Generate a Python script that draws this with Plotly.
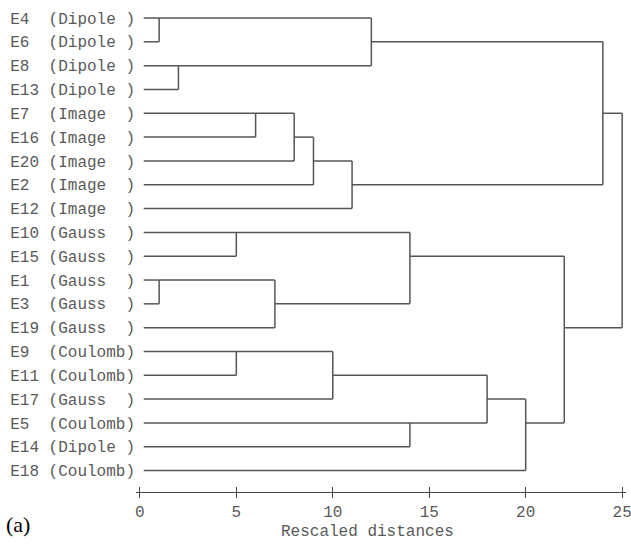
import plotly.graph_objects as go

NB = "\u00a0"

# Leaf labels in dendrogram order (top to bottom)
leaf_ids = ["E4", "E6", "E8", "E13", "E7", "E16", "E20", "E2", "E12",
            "E10", "E15", "E1", "E3", "E19", "E9", "E11", "E17", "E5", "E14", "E18"]
leaf_groups = ["Dipole ", "Dipole ", "Dipole ", "Dipole ", "Image  ", "Image  ", "Image  ", "Image  ", "Image  ",
               "Gauss  ", "Gauss  ", "Gauss  ", "Gauss  ", "Gauss  ", "Coulomb", "Coulomb", "Gauss  ", "Coulomb",
               "Dipole ", "Coulomb"]

# Merges: (cluster a, cluster b, rescaled distance); leaves are 0..19, new clusters numbered from 20
merge_a = [0, 2, 11, 9, 14, 4, 22, 25, 27, 24, 28, 20, 23, 17, 29, 34, 32, 31, 37]
merge_b = [1, 3, 12, 10, 15, 5, 13, 6, 7, 16, 8, 21, 26, 18, 33, 19, 35, 30, 36]
merge_d = [1, 2, 1, 5, 5, 6, 7, 8, 9, 10, 11, 12, 14, 14, 18, 20, 22, 24, 25]

x_ticks = [0, 5, 10, 15, 20, 25]

LEAF_START = 0.2
LINE_COLOR = "#555555"
TEXT_COLOR = "#5a5a5a"
MONO = "Liberation Mono, Courier New, monospace"

labels = [(i + NB * (4 - len(i)) + "(" + g + ")").replace(" ", NB) for i, g in zip(leaf_ids, leaf_groups)]

n = len(leaf_ids)
row = {k: k for k in range(n)}
height = {k: LEAF_START for k in range(n)}

xs, ys = [], []
for k, (a, b, d) in enumerate(zip(merge_a, merge_b, merge_d)):
    cid = n + k
    for c in (a, b):
        xs += [height[c], d, None]
        ys += [row[c], row[c], None]
    xs += [d, d, None]
    ys += [row[a], row[b], None]
    row[cid] = (row[a] + row[b]) // 2
    height[cid] = d

fig = go.Figure()
fig.add_trace(go.Scatter(x=xs, y=ys, mode="lines",
                         line=dict(color=LINE_COLOR, width=1.5),
                         hoverinfo="skip", showlegend=False, cliponaxis=False))
fig.add_trace(go.Scatter(x=[0, 25], y=[0, 0], mode="markers", marker=dict(opacity=0),
                         xaxis="x2", hoverinfo="skip", showlegend=False))

W, H = 631, 544
ml, mr, mt, mb = 136, 5.4, 0, 52
row_px0, row_step = 18, 23.82
plot_h = H - mt - mb
y_top = -(row_px0 - mt) / row_step
y_bot = (plot_h - (row_px0 - mt)) / row_step

common_x = dict(range=[-0.2, 25.2], tickvals=x_ticks, showgrid=False, zeroline=False,
                showline=True, linecolor="#444444", linewidth=1.2, automargin=False,
                tickcolor="#444444", tickwidth=1.2, ticklen=5)

fig.update_layout(
    width=W, height=H,
    margin=dict(l=ml, r=mr, t=mt, b=mb, autoexpand=False),
    paper_bgcolor="white", plot_bgcolor="white",
    showlegend=False,
    xaxis=dict(**common_x, ticks="outside", ticklabeloverflow="allow",
               tickfont=dict(family=MONO, size=16, color=TEXT_COLOR)),
    xaxis2=dict(**common_x, ticks="inside", overlaying="x", matches="x",
                side="bottom", anchor="y", showticklabels=False),
    yaxis=dict(range=[y_bot, y_top], tickvals=list(range(n)), ticktext=labels,
               showgrid=False, zeroline=False, showline=False, ticks="",
               ticklabelstandoff=0, automargin=False, ticklabeloverflow="allow",
               tickfont=dict(family=MONO, size=16, color=TEXT_COLOR)),
    annotations=[
        dict(text="Rescaled distances", xref="paper", yref="paper",
             x=(367.5 - ml) / (W - ml - mr), y=-(532 - (H - mb)) / plot_h,
             xanchor="center", yanchor="middle", showarrow=False,
             font=dict(family=MONO, size=16, color=TEXT_COLOR)),
        dict(text="(a)", xref="paper", yref="paper",
             x=(4 - ml) / (W - ml - mr), y=-(524 - (H - mb)) / plot_h,
             xanchor="left", yanchor="middle", showarrow=False,
             font=dict(family="Liberation Serif, Times New Roman, serif", size=22, color="black")),
    ],
)

fig.write_html("out.html", config={"displayModeBar": False},
               post_script="document.body.style.margin='0';document.body.style.overflow='hidden';")
